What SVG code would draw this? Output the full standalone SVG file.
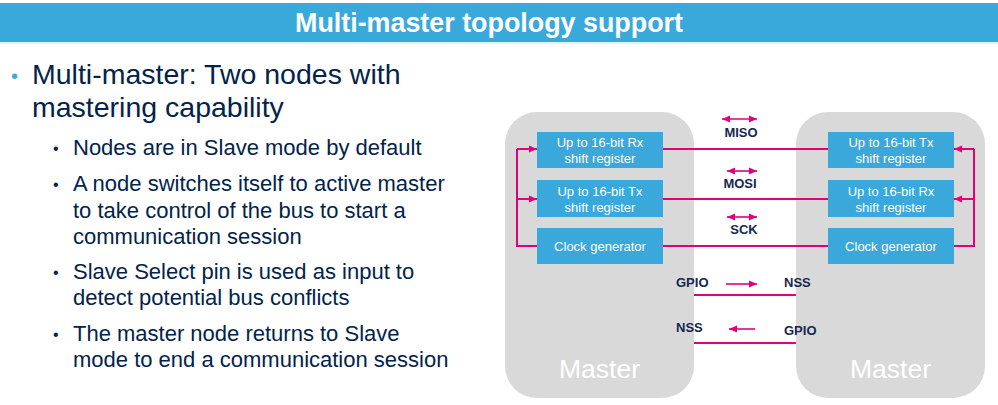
<svg xmlns="http://www.w3.org/2000/svg" width="998" height="405" viewBox="0 0 998 405">
<style>
.body{font-family:"Liberation Sans",Arial,sans-serif;fill:#03234B}
.l1{font-size:28.5px}
.l2{font-size:22px}
.blk{fill:#3AA8DB}
.blkt{font-family:"Liberation Sans",Arial,sans-serif;font-size:13px;fill:#fff;text-anchor:middle}
.mst{fill:#D9D9D9}
.mstt{font-family:"Liberation Sans",Arial,sans-serif;font-size:26.5px;fill:#fff;text-anchor:middle}
.lab{font-family:"Liberation Sans",Arial,sans-serif;font-size:13px;font-weight:bold;fill:#142850}
.wire{stroke:#E2007A;stroke-width:2;fill:none}
.sig{stroke:#E2007A;stroke-width:1.6;fill:none}
</style>
<defs>
<marker id="ah" viewBox="0 0 8 8" refX="8" refY="4" markerWidth="8" markerHeight="8" markerUnits="userSpaceOnUse" orient="auto-start-reverse">
<path d="M0,0.5 L8,4 L0,7.5 z" fill="#E2007A"/>
</marker>
</defs>
<rect x="0" y="3" width="998" height="39" fill="#39A9DC"/>
<line x1="0" y1="43" x2="998" y2="43" stroke="#BFE3F4" stroke-width="1"/>
<text x="489" y="32" text-anchor="middle" font-family="'Liberation Sans',Arial,sans-serif" font-size="27" font-weight="bold" fill="#fff" textLength="388" lengthAdjust="spacingAndGlyphs">Multi-master topology support</text>

<g id="bullets">
<text x="11" y="83" font-family="'Liberation Sans',Arial,sans-serif" font-size="20" fill="#39A9DC">•</text>
<text class="body l1" x="32" y="84">Multi-master: Two nodes with</text>
<text class="body l1" x="32" y="117">mastering capability</text>
<text class="body" x="53" y="154" font-size="16">•</text>
<text class="body l2" x="73" y="155">Nodes are in Slave mode by default</text>
<text class="body" x="53" y="190" font-size="16">•</text>
<text class="body l2" x="73" y="191">A node switches itself to active master</text>
<text class="body l2" x="73" y="218">to take control of the bus to start a</text>
<text class="body l2" x="73" y="244">communication session</text>
<text class="body" x="53" y="278" font-size="16">•</text>
<text class="body l2" x="73" y="279">Slave Select pin is used as input to</text>
<text class="body l2" x="73" y="305">detect potential bus conflicts</text>
<text class="body" x="53" y="340" font-size="16">•</text>
<text class="body l2" x="73" y="341">The master node returns to Slave</text>
<text class="body l2" x="73" y="367">mode to end a communication session</text>
</g>

<g id="master-left">
<rect class="mst" x="505" y="112" width="189" height="286" rx="32"/>
<text class="mstt" x="599.5" y="378">Master</text>
</g>
<g id="master-right">
<rect class="mst" x="796" y="112" width="189" height="286" rx="32"/>
<text class="mstt" x="890.5" y="378">Master</text>
</g>

<g id="left-rx">
<rect class="blk" x="537" y="132" width="126" height="36"/>
<text class="blkt" x="600" y="147">Up to 16-bit Rx</text>
<text class="blkt" x="600" y="163">shift register</text>
</g>
<g id="left-tx">
<rect class="blk" x="537" y="180" width="126" height="37"/>
<text class="blkt" x="600" y="196">Up to 16-bit Tx</text>
<text class="blkt" x="600" y="212">shift register</text>
</g>
<g id="left-clk">
<rect class="blk" x="537" y="228" width="126" height="36"/>
<text class="blkt" x="600" y="251">Clock generator</text>
</g>
<g id="right-tx">
<rect class="blk" x="828" y="132" width="126" height="36"/>
<text class="blkt" x="891" y="147">Up to 16-bit Tx</text>
<text class="blkt" x="891" y="163">shift register</text>
</g>
<g id="right-rx">
<rect class="blk" x="828" y="180" width="126" height="37"/>
<text class="blkt" x="891" y="196">Up to 16-bit Rx</text>
<text class="blkt" x="891" y="212">shift register</text>
</g>
<g id="right-clk">
<rect class="blk" x="828" y="228" width="126" height="36"/>
<text class="blkt" x="891" y="251">Clock generator</text>
</g>

<g id="connectors">
<line class="wire" x1="663" y1="149" x2="828" y2="149"/>
<line class="wire" x1="663" y1="199" x2="828" y2="199"/>
<line class="wire" x1="663" y1="246" x2="828" y2="246"/>
<polyline class="wire" points="537,246 517,246 517,149"/>
<line class="wire" x1="517" y1="149" x2="537" y2="149" marker-end="url(#ah)"/>
<line class="wire" x1="517" y1="199" x2="537" y2="199" marker-end="url(#ah)"/>
<polyline class="wire" points="954,246 974,246 974,149"/>
<line class="wire" x1="974" y1="149" x2="954" y2="149" marker-end="url(#ah)"/>
<line class="wire" x1="974" y1="199" x2="954" y2="199" marker-end="url(#ah)"/>
<line class="wire" x1="694" y1="295" x2="796" y2="295"/>
<line class="wire" x1="694" y1="343" x2="796" y2="343"/>
<line class="sig" x1="722" y1="119" x2="757" y2="119" marker-start="url(#ah)" marker-end="url(#ah)"/>
<line class="sig" x1="727" y1="171" x2="757" y2="171" marker-start="url(#ah)" marker-end="url(#ah)"/>
<line class="sig" x1="727" y1="217" x2="757" y2="217" marker-start="url(#ah)" marker-end="url(#ah)"/>
<line class="sig" x1="726" y1="284" x2="757" y2="284" marker-end="url(#ah)"/>
<line class="sig" x1="755" y1="329" x2="729" y2="329" marker-end="url(#ah)"/>
</g>

<g id="labels">
<text class="lab" x="741" y="137" text-anchor="middle">MISO</text>
<text class="lab" x="740" y="188" text-anchor="middle">MOSI</text>
<text class="lab" x="744" y="234" text-anchor="middle">SCK</text>
<text class="lab" x="676" y="287">GPIO</text>
<text class="lab" x="784" y="287">NSS</text>
<text class="lab" x="676" y="332">NSS</text>
<text class="lab" x="784" y="335">GPIO</text>
</g>
</svg>
